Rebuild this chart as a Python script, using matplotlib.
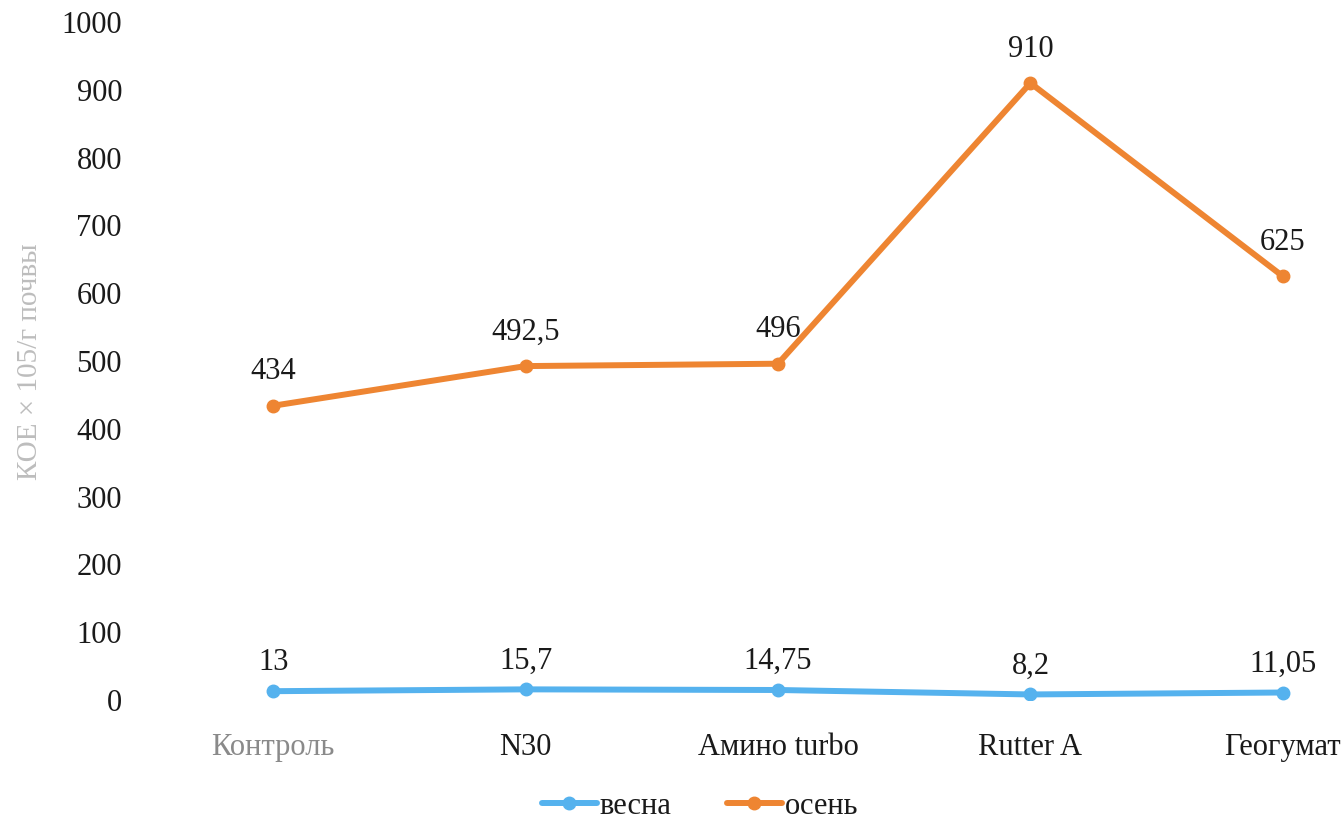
import matplotlib
matplotlib.use("Agg")
import matplotlib.pyplot as plt

categories = ["Контроль", "N30", "Амино turbo", "Rutter A", "Геогумат"]
vesna = [13, 15.7, 14.75, 8.2, 11.05]
osen = [434, 492.5, 496, 910, 625]
vesna_labels = ["13", "15,7", "14,75", "8,2", "11,05"]
osen_labels = ["434", "492,5", "496", "910", "625"]
yticks = [0, 100, 200, 300, 400, 500, 600, 700, 800, 900, 1000]

plt.rcParams['font.family'] = ['Liberation Serif', 'DejaVu Serif']

W, H = 1343, 823
fig = plt.figure(figsize=(W / 100, H / 100), dpi=100)
left = 147 / W
bottom = (H - 700) / H
top = (H - 22) / H
width = (1409 - 147) / W
ax = fig.add_axes([left, bottom, width, top - bottom])

blue = "#55B2EE"
orange = "#EE8532"
x = list(range(len(categories)))
ax.plot(x, vesna, color=blue, lw=4.3, marker="o", ms=9, label="весна", solid_capstyle="round")
ax.plot(x, osen, color=orange, lw=4.3, marker="o", ms=9, label="осень", solid_capstyle="round")

for xi, v, s in zip(x, vesna, vesna_labels):
    ax.annotate(s, (xi, v), xytext=(0, 10), textcoords="offset points",
                ha="center", va="bottom", fontsize=22, color="#1a1a1a")
for xi, v, s in zip(x, osen, osen_labels):
    ax.annotate(s, (xi, v), xytext=(0, 14), textcoords="offset points",
                ha="center", va="bottom", fontsize=22, color="#1a1a1a")

ax.set_xlim(-0.5, 4.5)
ax.set_ylim(0, 1000)
ax.set_yticks(yticks)
ax.set_yticklabels([str(t) for t in yticks], fontsize=22, color="#1a1a1a")
ax.set_xticks(x)
ax.set_xticklabels(categories, fontsize=22, color="#1a1a1a")
ax.get_xticklabels()[0].set_color("#8a8a8a")
ax.tick_params(axis="both", length=0)
ax.tick_params(axis="y", pad=18)
ax.tick_params(axis="x", pad=24)
for sp in ax.spines.values():
    sp.set_visible(False)

fig.text(30 / W, (H - 362) / H, "КОЕ × 105/г почвы", rotation=90, ha="center", va="center",
         fontsize=21, color="#bdbdbd")

leg = fig.legend(loc="center", bbox_to_anchor=(700 / W, (H - 806) / H), ncol=2, frameon=False,
                 fontsize=22, handlelength=1.8, handletextpad=0.1, columnspacing=1.8)
for t in leg.get_texts():
    t.set_color("#1a1a1a")

fig.savefig("out.png", dpi=100)
